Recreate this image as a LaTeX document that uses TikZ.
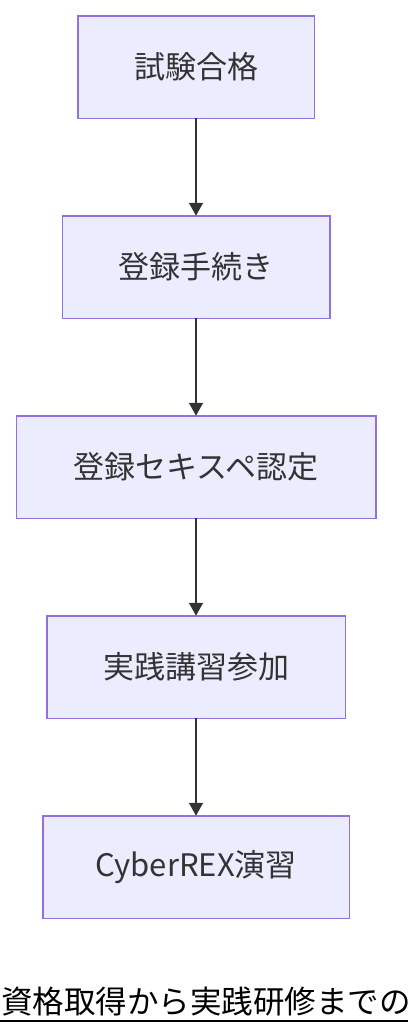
\documentclass[tikz,border=0pt]{standalone}
\usepackage{fontspec}
\setmainfont{Noto Sans CJK JP}
\usetikzlibrary{positioning,arrows.meta}
\definecolor{boxfill}{HTML}{ECECFF}
\definecolor{boxline}{HTML}{9370DB}
\definecolor{txt}{HTML}{333333}
\tikzset{
  stepbox/.style={draw=boxline, fill=boxfill, line width=1.5pt, rectangle, minimum height=102.5pt, outer sep=0pt, text=txt, font=\fontsize{31}{34}\selectfont, inner sep=0pt},
  flow/.style={draw=txt, line width=2pt, -{Triangle[width=14pt,length=13pt]}}
}
\begin{document}
\begin{tikzpicture}[x=1pt,y=1pt]
 \useasboundingbox (0,0) rectangle (408,-1036);
 \node[stepbox, minimum width=236.5pt] (pass) at (196,-67) {試験合格};
 \node[stepbox, minimum width=267.5pt, below=97.5pt of pass] (reg) {登録手続き};
 \node[stepbox, minimum width=359.5pt, below=97.5pt of reg] (cert) {登録セキスペ認定};
 \node[stepbox, minimum width=298.5pt, below=97.5pt of cert] (lect) {実践講習参加};
 \node[stepbox, minimum width=306.5pt, below=97.5pt of lect] (rex) {CyberREX演習};

 \draw[flow] (pass) -- (reg);
 \draw[flow] (reg) -- (cert);
 \draw[flow] (cert) -- (lect);
 \draw[flow] (lect) -- (rex);

 % title, cut off at the right edge
 \node[anchor=base west, inner sep=0pt, font=\fontsize{31.5}{34}\selectfont] (title) at (1,-1013) {資格取得から実践研修までの};
 \draw[line width=2pt] (0,-1021) -- (408,-1021);
\end{tikzpicture}
\end{document}
